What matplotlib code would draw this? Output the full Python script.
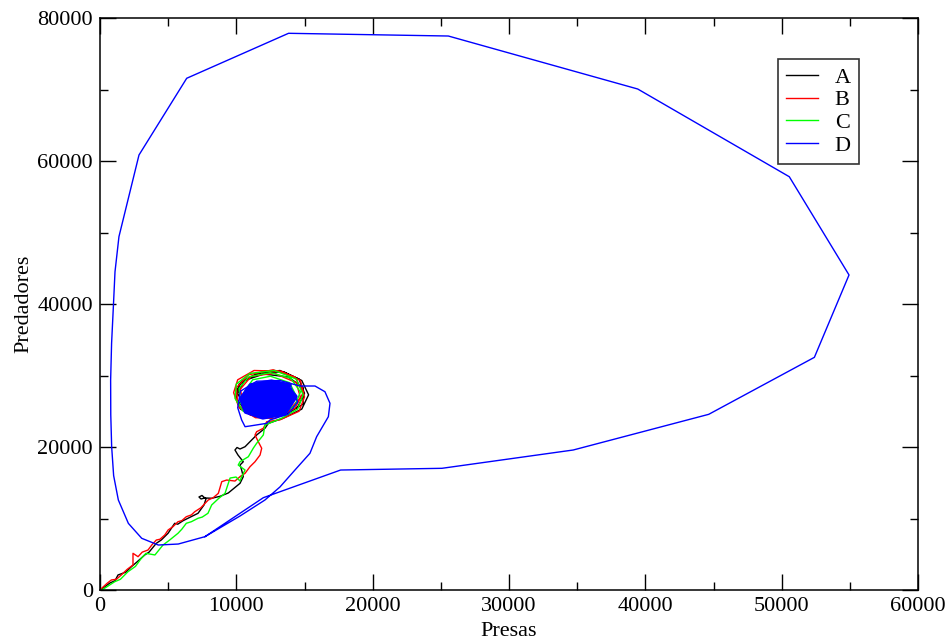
import matplotlib
matplotlib.use("Agg")
import matplotlib.pyplot as plt
from matplotlib.ticker import MultipleLocator

plt.rcParams["font.family"] = ["Liberation Serif", "DejaVu Serif"]

# serie A (negro)
a_presas = [0, 95, 730, 1100, 1320, 1900, 2300, 2700, 3280, 3600, 4130, 4500, 4990, 5480, 5700,
            6100, 6450, 7190, 7630, 7770,
            7480, 7260, 7410, 7700, 8190, 8800, 9410, 10270, 10510, 10390, 10270, 10510, 10120,
            9900, 10050, 10270, 10640, 11000, 11490, 12100, 12350,
            13400, 14800, 15300, 14800, 13500, 11800, 10400, 9900, 10300, 11500,
            13000, 14500, 15000, 14600, 13200, 11500, 10200, 10000, 10700, 12000,
            13600, 14900, 14900, 13800, 12000, 10600, 10100, 10600, 11900, 13200, 14200]
a_predadores = [0, 100, 980, 1300, 2100, 2500, 3260, 3900, 4900, 5300, 6530, 7000, 7930, 9330, 9200,
                9700, 10030, 10730, 11890, 12730,
                13220, 13010, 12730, 12870, 12830, 13100, 13570, 14920, 15850, 16780, 17480, 17940, 18880,
                19580, 19930, 19720, 20040, 20740, 21680, 22620, 23310,
                24000, 25300, 27300, 29300, 30500, 30400, 29200, 27300, 25300, 24200,
                24300, 25600, 27500, 29500, 30700, 30300, 28800, 26800, 25000, 24100,
                24500, 26000, 28300, 29800, 30200, 29300, 27500, 25600, 24700, 25000, 26500]

# serie B (rojo)
b_presas = [0, 125, 500, 830, 1200, 1560, 2000, 2420, 2420, 2790, 3100, 3520, 3800, 4130, 4400,
            4750, 5000, 5350, 5720, 6000, 6330, 6700, 6950, 7400, 7940, 8300, 8680, 8930, 9290,
            9900, 10300, 10640, 11000, 11370, 11740, 11860, 11610, 11370, 11490, 11980, 12230,
            13200, 14600, 15000, 14700, 13300, 11300, 10100, 9800, 10200, 11400,
            12800, 14300, 14900, 14300, 12700, 10900, 10000, 10100, 11000, 12400,
            13800, 14700, 14400, 12800, 11100, 10300, 10500, 11700, 13100]
b_predadores = [0, 240, 900, 1400, 1500, 2100, 2900, 3500, 5130, 4660, 5300, 5590, 6300, 6990, 7100,
                7690, 8400, 8850, 9550, 9700, 10250, 10500, 10950, 11500, 12590, 12900, 13520, 15150, 15380,
                15240, 15900, 16320, 17240, 17940, 18880, 19820, 20740, 21680, 22140, 22620, 23540,
                23800, 25000, 27000, 29300, 30600, 30700, 29400, 27600, 25500, 24100,
                24000, 25400, 27600, 29800, 30800, 30100, 28300, 26000, 24500, 24300,
                25000, 26900, 29000, 30300, 29900, 28100, 25900, 24700, 24600]

# serie C (verde)
c_presas = [0, 220, 1080, 1500, 2050, 2600, 3030, 3370, 4030, 4620, 5110, 5720, 6000, 6330, 6700,
            7190, 7500, 7920, 8190, 8700, 9170, 9540, 9980, 10270, 10390, 10640, 10140, 10270,
            10880, 11240, 11490, 11980, 12100,
            13300, 14500, 14900, 14400, 12800, 11000, 10000, 9900, 10500, 11800,
            13200, 14300, 14700, 14000, 12500, 10900, 10200, 10300, 11200, 12600,
            13700, 14400, 13900, 12500, 11200, 10600, 10900, 12000, 13200]
c_predadores = [0, 100, 1160, 1500, 2560, 3300, 4430, 5130, 4900, 6290, 6990, 7930, 8500, 9330, 9550,
                10030, 10200, 10730, 11890, 12800, 13520, 15660, 15800, 15240, 15850, 16780, 17480, 17940,
                18640, 19820, 20520, 21680, 23080,
                24000, 25300, 27300, 29500, 30700, 30300, 28800, 26800, 25000, 24200,
                24500, 25800, 27700, 29600, 30400, 29800, 28200, 26100, 24800, 24500,
                25300, 27100, 29000, 29900, 29400, 27800, 26000, 25200, 25400]

# serie D (azul)
d_presas = [7700, 11980, 17650, 25080, 34710, 44650, 52400, 54940, 50560, 39440, 25550, 13830,
            6360, 2860, 1390, 1100, 980, 850, 780, 790, 855, 1000, 1345, 2080, 3060, 4280, 5740,
            7700, 10270, 12100, 13200, 14300, 15400, 15890, 16750, 16870, 16500, 15770, 14670,
            13200, 11500, 10300, 10100, 10390, 10640, 11000, 12230, 12470, 13800, 14500,
            13920, 12570, 11040, 10320, 10680, 11940, 13560, 14370,
            13740, 12540, 11180, 10540, 10860, 11980, 13420, 14140,
            13560, 12510, 11320, 10760, 11040, 12020, 13280, 13910,
            13380, 12480, 11460, 10980, 11220, 12060, 13140, 13680,
            13200, 12450, 11600, 11200, 11400, 12100, 13000, 13450,
            13020, 12420, 11740, 11420, 11580, 12140, 12860, 13220,
            12840, 12390, 11880, 11640, 11760, 12180, 12720, 12990,
            12660, 12360, 12020, 11860, 11940, 12220, 12580, 12760,
            12480, 12330, 12160, 12080, 12120, 12260, 12440, 12530, 12300]
d_predadores = [7460, 12910, 16780, 17020, 19580, 24570, 32540, 44060, 57800, 70070, 77480, 77860,
                71570, 60840, 49420, 44500, 39620, 34500, 29370, 24500, 20040, 16000, 12590, 9320,
                7230, 6290, 6430,
                7460, 10350, 12590, 14410, 16780, 19120, 21440, 24240, 26110, 27730, 28530, 28530,
                29300, 29200, 27800, 25500, 23780, 22840, 22940, 23310, 23780, 24600, 26300,
                28670, 29210, 28670, 26780, 24890, 24080, 24620, 27050,
                28440, 28920, 28440, 26760, 25080, 24360, 24840, 27000,
                28210, 28630, 28210, 26740, 25270, 24640, 25060, 26950,
                27980, 28340, 27980, 26720, 25460, 24920, 25280, 26900,
                27750, 28050, 27750, 26700, 25650, 25200, 25500, 26850,
                27520, 27760, 27520, 26680, 25840, 25480, 25720, 26800,
                27290, 27470, 27290, 26660, 26030, 25760, 25940, 26750,
                27060, 27180, 27060, 26640, 26220, 26040, 26160, 26700,
                26830, 26890, 26830, 26620, 26410, 26320, 26380, 26650, 26600]

series = [
    ("A", a_presas, a_predadores, "#000000"),
    ("B", b_presas, b_predadores, "#ff0000"),
    ("C", c_presas, c_predadores, "#00ff00"),
    ("D", d_presas, d_predadores, "#0000ff"),
]

x_ticks = [0, 10000, 20000, 30000, 40000, 50000, 60000]
y_ticks = [0, 20000, 40000, 60000, 80000]

# inicio de las vueltas internas de D (espiral hacia el equilibrio)
D_INNER = 50


def main():
    fig = plt.figure(figsize=(9.48, 6.41), dpi=100)
    ax = fig.add_axes([100 / 948, 51 / 641, 818 / 948, 572 / 641])

    for name, xs, ys, color in series:
        ax.plot(xs, ys, color=color, lw=1.0, label=name)
    # la espiral interna de D se ve como una mancha rellena
    ax.plot(d_presas[D_INNER:], d_predadores[D_INNER:], color="#0000ff", lw=2.6,
            solid_joinstyle="round")

    ax.set_xlim(0, 60000)
    ax.set_ylim(0, 80000)
    ax.set_xticks(x_ticks)
    ax.set_xticklabels([str(v) for v in x_ticks])
    ax.set_yticks(y_ticks)
    ax.set_yticklabels([str(v) for v in y_ticks])
    ax.xaxis.set_minor_locator(MultipleLocator(5000))
    ax.yaxis.set_minor_locator(MultipleLocator(10000))
    ax.tick_params(which="both", direction="in", top=True, right=True,
                   labelsize=16, pad=5, width=1.0)
    ax.tick_params(which="major", length=11.5)
    ax.tick_params(which="minor", length=5.8)
    for sp in ax.spines.values():
        sp.set_linewidth(1.1)

    ax.set_xlabel("Presas", fontsize=16, labelpad=4)
    ax.set_ylabel("Predadores", fontsize=16, labelpad=3)

    leg = ax.legend(loc="upper left", bbox_to_anchor=(0.829, 0.928), borderaxespad=0,
                    fontsize=16, handlelength=1.45, handletextpad=0.75, labelspacing=0.1,
                    borderpad=0.35, fancybox=False, framealpha=1, edgecolor="#333333")
    leg.get_frame().set_linewidth(1.2)

    fig.savefig("out.png", dpi=100)


if __name__ == "__main__":
    main()
